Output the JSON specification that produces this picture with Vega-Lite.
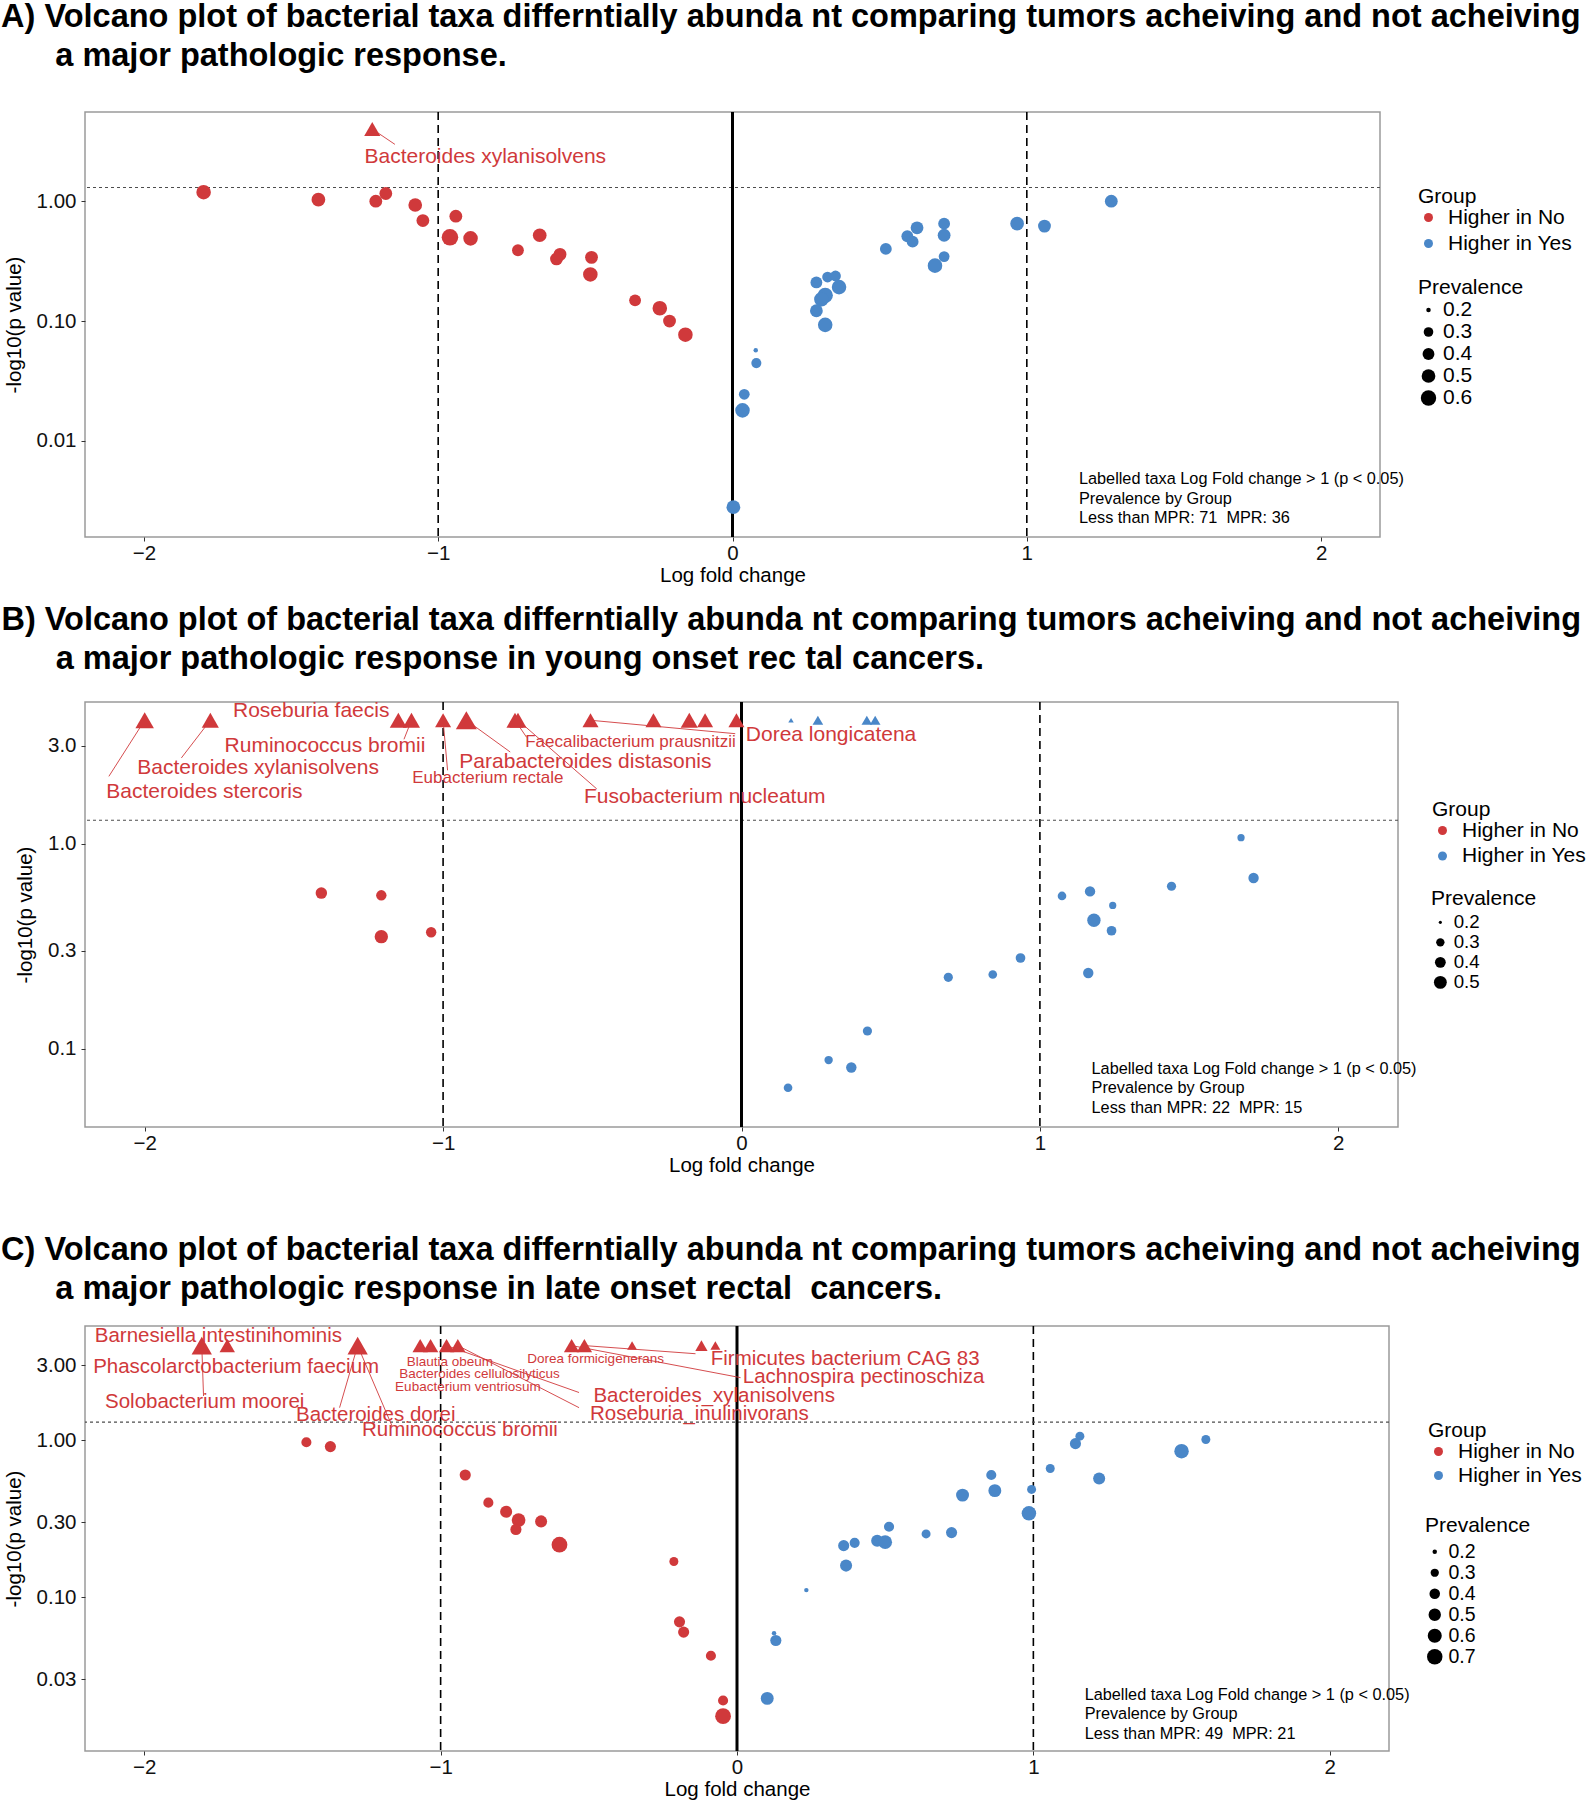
{
"$schema": "https://vega.github.io/schema/vega-lite/v6.json",
"padding": 0,
"background": "white",
"spacing": 16,
"config": {
 "font": "Liberation Sans",
 "view": {"stroke": "#9a9a9a", "strokeWidth": 1.5},
 "axis": {"domain": false, "gridColor": "#ebebeb", "gridWidth": 1, "tickColor": "#333333", "tickSize": 4, "labelFontSize": 20.5, "labelColor": "#111111", "titleFontSize": 20.5, "titleFontWeight": "normal", "titleColor": "#000000"},
 "axisX": {"labelPadding": 2, "titlePadding": 2},
 "axisY": {"labelPadding": 5, "titlePadding": 12},
 "legend": {"labelFontSize": 21, "titleFontSize": 21, "titleFontWeight": "normal", "labelColor": "#000000", "titleColor": "#000000", "padding": 0}
},
"datasets": {
 "A": [
  {"lfc":-1.797,"nlp":1.19,"grp":"Higher in No","prev":0.55,"cap":0},
  {"lfc":-1.407,"nlp":1.03,"grp":"Higher in No","prev":0.5,"cap":0},
  {"lfc":-1.212,"nlp":1.0,"grp":"Higher in No","prev":0.45,"cap":0},
  {"lfc":-1.178,"nlp":1.16,"grp":"Higher in No","prev":0.45,"cap":0},
  {"lfc":-1.078,"nlp":0.93,"grp":"Higher in No","prev":0.5,"cap":0},
  {"lfc":-1.052,"nlp":0.69,"grp":"Higher in No","prev":0.45,"cap":0},
  {"lfc":-0.94,"nlp":0.75,"grp":"Higher in No","prev":0.45,"cap":0},
  {"lfc":-0.96,"nlp":0.5,"grp":"Higher in No","prev":0.68,"cap":0},
  {"lfc":-0.89,"nlp":0.49,"grp":"Higher in No","prev":0.55,"cap":0},
  {"lfc":-0.729,"nlp":0.39,"grp":"Higher in No","prev":0.4,"cap":0},
  {"lfc":-0.655,"nlp":0.52,"grp":"Higher in No","prev":0.5,"cap":0},
  {"lfc":-0.586,"nlp":0.36,"grp":"Higher in No","prev":0.45,"cap":0},
  {"lfc":-0.598,"nlp":0.33,"grp":"Higher in No","prev":0.45,"cap":0},
  {"lfc":-0.479,"nlp":0.34,"grp":"Higher in No","prev":0.45,"cap":0},
  {"lfc":-0.483,"nlp":0.245,"grp":"Higher in No","prev":0.55,"cap":0},
  {"lfc":-0.331,"nlp":0.149,"grp":"Higher in No","prev":0.4,"cap":0},
  {"lfc":-0.247,"nlp":0.128,"grp":"Higher in No","prev":0.55,"cap":0},
  {"lfc":-0.214,"nlp":0.1,"grp":"Higher in No","prev":0.45,"cap":0},
  {"lfc":-0.16,"nlp":0.077,"grp":"Higher in No","prev":0.55,"cap":0},
  {"lfc":-1.224,"nlp":4,"grp":"Higher in No","prev":0.4,"cap":1},
  {"lfc":0.003,"nlp":0.0028,"grp":"Higher in Yes","prev":0.5,"cap":0},
  {"lfc":0.034,"nlp":0.018,"grp":"Higher in Yes","prev":0.55,"cap":0},
  {"lfc":0.04,"nlp":0.0245,"grp":"Higher in Yes","prev":0.35,"cap":0},
  {"lfc":0.081,"nlp":0.0446,"grp":"Higher in Yes","prev":0.32,"cap":0},
  {"lfc":0.079,"nlp":0.057,"grp":"Higher in Yes","prev":0.2,"cap":0},
  {"lfc":1.287,"nlp":1.0,"grp":"Higher in Yes","prev":0.45,"cap":0},
  {"lfc":0.967,"nlp":0.65,"grp":"Higher in Yes","prev":0.5,"cap":0},
  {"lfc":1.06,"nlp":0.62,"grp":"Higher in Yes","prev":0.45,"cap":0},
  {"lfc":0.627,"nlp":0.6,"grp":"Higher in Yes","prev":0.45,"cap":0},
  {"lfc":0.719,"nlp":0.65,"grp":"Higher in Yes","prev":0.4,"cap":0},
  {"lfc":0.719,"nlp":0.52,"grp":"Higher in Yes","prev":0.45,"cap":0},
  {"lfc":0.594,"nlp":0.51,"grp":"Higher in Yes","prev":0.4,"cap":0},
  {"lfc":0.612,"nlp":0.46,"grp":"Higher in Yes","prev":0.4,"cap":0},
  {"lfc":0.521,"nlp":0.4,"grp":"Higher in Yes","prev":0.4,"cap":0},
  {"lfc":0.719,"nlp":0.345,"grp":"Higher in Yes","prev":0.35,"cap":0},
  {"lfc":0.688,"nlp":0.29,"grp":"Higher in Yes","prev":0.55,"cap":0},
  {"lfc":0.323,"nlp":0.233,"grp":"Higher in Yes","prev":0.35,"cap":0},
  {"lfc":0.35,"nlp":0.238,"grp":"Higher in Yes","prev":0.35,"cap":0},
  {"lfc":0.285,"nlp":0.21,"grp":"Higher in Yes","prev":0.4,"cap":0},
  {"lfc":0.362,"nlp":0.192,"grp":"Higher in Yes","prev":0.55,"cap":0},
  {"lfc":0.315,"nlp":0.164,"grp":"Higher in Yes","prev":0.6,"cap":0},
  {"lfc":0.302,"nlp":0.152,"grp":"Higher in Yes","prev":0.55,"cap":0},
  {"lfc":0.285,"nlp":0.122,"grp":"Higher in Yes","prev":0.45,"cap":0},
  {"lfc":0.315,"nlp":0.093,"grp":"Higher in Yes","prev":0.55,"cap":0}
 ],
 "Aseg": [{"lfc":-1.224,"nlp":4,"lfc2":-1.147,"nlp2":2.98}],
 "Alab": [{"label":"Bacteroides xylanisolvens","lfc":-0.84,"nlp":2.32,"kind":"L"}],
 "B": [
  {"lfc":-2.0,"nlp":4,"grp":"Higher in No","prev":0.42,"cap":1},
  {"lfc":-1.78,"nlp":4,"grp":"Higher in No","prev":0.38,"cap":1},
  {"lfc":-1.15,"nlp":4,"grp":"Higher in No","prev":0.38,"cap":1},
  {"lfc":-1.106,"nlp":4,"grp":"Higher in No","prev":0.38,"cap":1},
  {"lfc":-1.0,"nlp":4,"grp":"Higher in No","prev":0.35,"cap":1},
  {"lfc":-0.922,"nlp":4,"grp":"Higher in No","prev":0.5,"cap":1},
  {"lfc":-0.759,"nlp":4,"grp":"Higher in No","prev":0.38,"cap":1},
  {"lfc":-0.749,"nlp":4,"grp":"Higher in No","prev":0.38,"cap":1},
  {"lfc":-0.506,"nlp":4,"grp":"Higher in No","prev":0.35,"cap":1},
  {"lfc":-0.295,"nlp":4,"grp":"Higher in No","prev":0.35,"cap":1},
  {"lfc":-0.175,"nlp":4,"grp":"Higher in No","prev":0.38,"cap":1},
  {"lfc":-0.122,"nlp":4,"grp":"Higher in No","prev":0.35,"cap":1},
  {"lfc":-0.017,"nlp":4,"grp":"Higher in No","prev":0.35,"cap":1},
  {"lfc":0.166,"nlp":4,"grp":"Higher in Yes","prev":0.2,"cap":1},
  {"lfc":0.256,"nlp":4,"grp":"Higher in Yes","prev":0.25,"cap":1},
  {"lfc":0.42,"nlp":4,"grp":"Higher in Yes","prev":0.25,"cap":1},
  {"lfc":0.448,"nlp":4,"grp":"Higher in Yes","prev":0.25,"cap":1},
  {"lfc":-1.408,"nlp":0.574,"grp":"Higher in No","prev":0.43,"cap":0},
  {"lfc":-1.207,"nlp":0.56,"grp":"Higher in No","prev":0.38,"cap":0},
  {"lfc":-1.207,"nlp":0.352,"grp":"Higher in No","prev":0.53,"cap":0},
  {"lfc":-1.04,"nlp":0.37,"grp":"Higher in No","prev":0.38,"cap":0},
  {"lfc":1.674,"nlp":1.07,"grp":"Higher in Yes","prev":0.27,"cap":0},
  {"lfc":1.716,"nlp":0.68,"grp":"Higher in Yes","prev":0.38,"cap":0},
  {"lfc":1.441,"nlp":0.62,"grp":"Higher in Yes","prev":0.33,"cap":0},
  {"lfc":1.074,"nlp":0.556,"grp":"Higher in Yes","prev":0.31,"cap":0},
  {"lfc":1.168,"nlp":0.585,"grp":"Higher in Yes","prev":0.38,"cap":0},
  {"lfc":1.244,"nlp":0.5,"grp":"Higher in Yes","prev":0.27,"cap":0},
  {"lfc":1.181,"nlp":0.423,"grp":"Higher in Yes","prev":0.53,"cap":0},
  {"lfc":1.24,"nlp":0.376,"grp":"Higher in Yes","prev":0.35,"cap":0},
  {"lfc":0.935,"nlp":0.277,"grp":"Higher in Yes","prev":0.35,"cap":0},
  {"lfc":0.842,"nlp":0.23,"grp":"Higher in Yes","prev":0.31,"cap":0},
  {"lfc":0.693,"nlp":0.223,"grp":"Higher in Yes","prev":0.33,"cap":0},
  {"lfc":1.162,"nlp":0.234,"grp":"Higher in Yes","prev":0.38,"cap":0},
  {"lfc":0.422,"nlp":0.122,"grp":"Higher in Yes","prev":0.33,"cap":0},
  {"lfc":0.292,"nlp":0.088,"grp":"Higher in Yes","prev":0.3,"cap":0},
  {"lfc":0.368,"nlp":0.081,"grp":"Higher in Yes","prev":0.38,"cap":0},
  {"lfc":0.156,"nlp":0.0645,"grp":"Higher in Yes","prev":0.31,"cap":0}
 ],
 "Bseg": [
  {"lfc":-2.0,"nlp":4,"lfc2":-2.12,"nlp2":2.13},
  {"lfc":-1.78,"nlp":4,"lfc2":-1.877,"nlp2":2.62},
  {"lfc":-1.106,"nlp":4,"lfc2":-1.131,"nlp2":3.23},
  {"lfc":-0.922,"nlp":4,"lfc2":-0.775,"nlp2":2.8},
  {"lfc":-0.749,"nlp":4,"lfc2":-0.485,"nlp2":1.85},
  {"lfc":-0.506,"nlp":4,"lfc2":-0.021,"nlp2":3.44},
  {"lfc":-1.0,"nlp":4,"lfc2":-0.985,"nlp2":2.28},
  {"lfc":-0.759,"nlp":4,"lfc2":-0.72,"nlp2":3.3}
 ],
 "Blab": [
  {"label":"Roseburia faecis","lfc":-1.442,"nlp":4.45,"kind":"L"},
  {"label":"Ruminococcus bromii","lfc":-1.396,"nlp":2.98,"kind":"L"},
  {"label":"Bacteroides xylanisolvens","lfc":-1.62,"nlp":2.33,"kind":"L"},
  {"label":"Bacteroides stercoris","lfc":-1.8,"nlp":1.78,"kind":"L"},
  {"label":"Parabacteroides distasonis","lfc":-0.523,"nlp":2.49,"kind":"L"},
  {"label":"Fusobacterium nucleatum","lfc":-0.123,"nlp":1.69,"kind":"L"},
  {"label":"Dorea longicatena","lfc":0.3,"nlp":3.4,"kind":"L"},
  {"label":"Faecalibacterium prausnitzii","lfc":-0.372,"nlp":3.14,"kind":"M"},
  {"label":"Eubacterium rectale","lfc":-0.85,"nlp":2.1,"kind":"M"}
 ],
 "C": [
  {"lfc":-1.806,"nlp":4,"grp":"Higher in No","prev":0.6,"cap":1},
  {"lfc":-1.72,"nlp":4,"grp":"Higher in No","prev":0.4,"cap":1},
  {"lfc":-1.28,"nlp":4,"grp":"Higher in No","prev":0.6,"cap":1},
  {"lfc":-1.069,"nlp":4,"grp":"Higher in No","prev":0.4,"cap":1},
  {"lfc":-1.034,"nlp":4,"grp":"Higher in No","prev":0.4,"cap":1},
  {"lfc":-0.98,"nlp":4,"grp":"Higher in No","prev":0.4,"cap":1},
  {"lfc":-0.942,"nlp":4,"grp":"Higher in No","prev":0.4,"cap":1},
  {"lfc":-0.558,"nlp":4,"grp":"Higher in No","prev":0.4,"cap":1},
  {"lfc":-0.515,"nlp":4,"grp":"Higher in No","prev":0.4,"cap":1},
  {"lfc":-0.354,"nlp":4,"grp":"Higher in No","prev":0.25,"cap":1},
  {"lfc":-0.12,"nlp":4,"grp":"Higher in No","prev":0.3,"cap":1},
  {"lfc":-0.073,"nlp":4,"grp":"Higher in No","prev":0.25,"cap":1},
  {"lfc":-1.453,"nlp":0.97,"grp":"Higher in No","prev":0.38,"cap":0},
  {"lfc":-1.372,"nlp":0.91,"grp":"Higher in No","prev":0.43,"cap":0},
  {"lfc":-0.917,"nlp":0.6,"grp":"Higher in No","prev":0.43,"cap":0},
  {"lfc":-0.839,"nlp":0.4,"grp":"Higher in No","prev":0.38,"cap":0},
  {"lfc":-0.779,"nlp":0.35,"grp":"Higher in No","prev":0.48,"cap":0},
  {"lfc":-0.737,"nlp":0.31,"grp":"Higher in No","prev":0.58,"cap":0},
  {"lfc":-0.746,"nlp":0.27,"grp":"Higher in No","prev":0.43,"cap":0},
  {"lfc":-0.661,"nlp":0.304,"grp":"Higher in No","prev":0.48,"cap":0},
  {"lfc":-0.599,"nlp":0.216,"grp":"Higher in No","prev":0.72,"cap":0},
  {"lfc":-0.213,"nlp":0.169,"grp":"Higher in No","prev":0.33,"cap":0},
  {"lfc":-0.194,"nlp":0.0697,"grp":"Higher in No","prev":0.43,"cap":0},
  {"lfc":-0.18,"nlp":0.06,"grp":"Higher in No","prev":0.43,"cap":0},
  {"lfc":-0.088,"nlp":0.0424,"grp":"Higher in No","prev":0.38,"cap":0},
  {"lfc":-0.047,"nlp":0.022,"grp":"Higher in No","prev":0.38,"cap":0},
  {"lfc":-0.047,"nlp":0.0175,"grp":"Higher in No","prev":0.72,"cap":0},
  {"lfc":0.102,"nlp":0.0227,"grp":"Higher in Yes","prev":0.53,"cap":0},
  {"lfc":0.131,"nlp":0.053,"grp":"Higher in Yes","prev":0.43,"cap":0},
  {"lfc":0.125,"nlp":0.059,"grp":"Higher in Yes","prev":0.2,"cap":0},
  {"lfc":1.157,"nlp":1.06,"grp":"Higher in Yes","prev":0.33,"cap":0},
  {"lfc":1.142,"nlp":0.95,"grp":"Higher in Yes","prev":0.43,"cap":0},
  {"lfc":1.582,"nlp":1.01,"grp":"Higher in Yes","prev":0.33,"cap":0},
  {"lfc":1.5,"nlp":0.85,"grp":"Higher in Yes","prev":0.63,"cap":0},
  {"lfc":1.057,"nlp":0.66,"grp":"Higher in Yes","prev":0.33,"cap":0},
  {"lfc":1.222,"nlp":0.57,"grp":"Higher in Yes","prev":0.48,"cap":0},
  {"lfc":0.858,"nlp":0.6,"grp":"Higher in Yes","prev":0.38,"cap":0},
  {"lfc":0.87,"nlp":0.477,"grp":"Higher in Yes","prev":0.53,"cap":0},
  {"lfc":0.761,"nlp":0.447,"grp":"Higher in Yes","prev":0.53,"cap":0},
  {"lfc":0.994,"nlp":0.486,"grp":"Higher in Yes","prev":0.33,"cap":0},
  {"lfc":0.985,"nlp":0.342,"grp":"Higher in Yes","prev":0.63,"cap":0},
  {"lfc":0.513,"nlp":0.281,"grp":"Higher in Yes","prev":0.38,"cap":0},
  {"lfc":0.724,"nlp":0.258,"grp":"Higher in Yes","prev":0.43,"cap":0},
  {"lfc":0.638,"nlp":0.253,"grp":"Higher in Yes","prev":0.33,"cap":0},
  {"lfc":0.473,"nlp":0.229,"grp":"Higher in Yes","prev":0.48,"cap":0},
  {"lfc":0.5,"nlp":0.224,"grp":"Higher in Yes","prev":0.58,"cap":0},
  {"lfc":0.397,"nlp":0.222,"grp":"Higher in Yes","prev":0.38,"cap":0},
  {"lfc":0.36,"nlp":0.213,"grp":"Higher in Yes","prev":0.43,"cap":0},
  {"lfc":0.368,"nlp":0.159,"grp":"Higher in Yes","prev":0.48,"cap":0},
  {"lfc":0.234,"nlp":0.111,"grp":"Higher in Yes","prev":0.2,"cap":0}
 ],
 "Cseg": [
  {"lfc":-1.806,"nlp":4,"lfc2":-1.8,"nlp2":1.91},
  {"lfc":-1.28,"nlp":4,"lfc2":-1.341,"nlp2":1.61},
  {"lfc":-1.28,"nlp":4,"lfc2":-1.164,"nlp2":1.23},
  {"lfc":-0.98,"nlp":4,"lfc2":-0.533,"nlp2":2.01},
  {"lfc":-0.942,"nlp":4,"lfc2":-0.533,"nlp2":1.61},
  {"lfc":-0.515,"nlp":4,"lfc2":-0.14,"nlp2":3.55},
  {"lfc":-0.558,"nlp":4,"lfc2":0.012,"nlp2":2.5}
 ],
 "Clab": [
  {"label":"Barnesiella intestinihominis","lfc":-1.75,"nlp":4.62,"kind":"L"},
  {"label":"Phascolarctobacterium faecium","lfc":-1.69,"nlp":2.93,"kind":"L"},
  {"label":"Solobacterium moorei","lfc":-1.796,"nlp":1.74,"kind":"L"},
  {"label":"Bacteroides dorei","lfc":-1.219,"nlp":1.45,"kind":"L"},
  {"label":"Ruminococcus bromii","lfc":-0.935,"nlp":1.165,"kind":"L"},
  {"label":"Blautia obeum","lfc":-0.969,"nlp":3.14,"kind":"S"},
  {"label":"Bacteroides cellulosilyticus","lfc":-0.869,"nlp":2.65,"kind":"S"},
  {"label":"Eubacterium ventriosum","lfc":-0.908,"nlp":2.17,"kind":"S"},
  {"label":"Dorea formicigenerans","lfc":-0.477,"nlp":3.3,"kind":"S"},
  {"label":"Firmicutes bacterium CAG 83","lfc":0.365,"nlp":3.3,"kind":"L"},
  {"label":"Lachnospira pectinoschiza","lfc":0.427,"nlp":2.52,"kind":"L"},
  {"label":"Bacteroides_xylanisolvens","lfc":-0.077,"nlp":1.9,"kind":"L"},
  {"label":"Roseburia_inulinivorans","lfc":-0.127,"nlp":1.47,"kind":"L"}
 ]
},
"resolve": {"scale": {"color": "independent", "size": "independent", "x": "independent", "y": "independent"}, "legend": {"color": "independent", "size": "independent"}},
"vconcat": [
 {
  "title": {"text": ["A) Volcano plot of bacterial taxa differntially abunda nt comparing tumors acheiving and not acheiving", "\u200b\u00a0\u00a0\u00a0\u00a0\u00a0\u00a0a major pathologic response."], "anchor": "start", "frame": "bounds", "offset": 38, "fontSize": 32.5, "fontWeight": "bold", "lineHeight": 39, "dx": -3, "color": "#000000"},
  "width": 1295, "height": 425,
  "resolve": {"scale": {"size": "independent"}},
  "layer": [
   {"data": {"values": [{}]}, "mark": {"type": "rule", "color": "black", "strokeWidth": 1.6, "strokeDash": [8, 5]}, "encoding": {"x": {"datum": -1, "type": "quantitative", "title": "Log fold change", "scale": {"domain": [-2.2, 2.2], "nice": false, "zero": false}}}},
   {"data": {"values": [{}]}, "mark": {"type": "rule", "color": "black", "strokeWidth": 1.6, "strokeDash": [8, 5]}, "encoding": {"x": {"datum": 1, "type": "quantitative", "title": "Log fold change", "scale": {"domain": [-2.2, 2.2], "nice": false, "zero": false}}}},
   {"data": {"values": [{}]}, "mark": {"type": "rule", "color": "#4d4d4d", "strokeWidth": 1.2, "strokeDash": [3, 3]}, "encoding": {"y": {"datum": 1.30103, "type": "quantitative", "title": "-log10(p value)", "scale": {"type": "log", "domain": [0.00158, 5.55], "nice": false}}}},
   {"data": {"values": [{}]}, "mark": {"type": "rule", "color": "black", "strokeWidth": 3}, "encoding": {"x": {"datum": 0, "type": "quantitative", "title": "Log fold change", "scale": {"domain": [-2.2, 2.2], "nice": false, "zero": false}}}},
   {"data": {"name": "Aseg"}, "mark": {"type": "rule", "color": "#D0393B", "strokeWidth": 0.9},
    "encoding": {"x": {"field": "lfc", "type": "quantitative", "title": "Log fold change", "scale": {"domain": [-2.2, 2.2], "nice": false, "zero": false}}, "y": {"field": "nlp", "type": "quantitative", "title": "-log10(p value)", "scale": {"type": "log", "domain": [0.00158, 5.55], "nice": false}}, "x2": {"field": "lfc2"}, "y2": {"field": "nlp2"}}},
   {"data": {"name": "A"}, "transform": [{"filter": "datum.cap == 0"}], "mark": {"type": "point", "shape": "circle", "filled": true, "opacity": 1},
    "encoding": {
     "x": {"field": "lfc", "type": "quantitative", "title": "Log fold change", "scale": {"domain": [-2.2, 2.2], "nice": false, "zero": false}, "axis": {"values": [-2, -1.5, -1, -0.5, 0, 0.5, 1, 1.5, 2], "labelExpr": "datum.value % 1 == 0 ? format(datum.value, 'd') : ''", "tickOpacity": {"condition": {"test": "datum.value % 1 == 0", "value": 1}, "value": 0}}},
     "y": {"field": "nlp", "type": "quantitative", "title": "-log10(p value)", "scale": {"type": "log", "domain": [0.00158, 5.55], "nice": false}, "axis": {"values": [0.00316, 0.01, 0.0316, 0.1, 0.316, 1, 3.16], "labelExpr": "indexof([0.01, 0.1, 1], datum.value) >= 0 ? format(datum.value, '.2f') : ''", "tickOpacity": {"condition": {"test": "indexof([0.01, 0.1, 1], datum.value) >= 0", "value": 1}, "value": 0}}},
     "color": {"field": "grp", "type": "nominal", "scale": {"domain": ["Higher in No", "Higher in Yes"], "range": ["#D0393B", "#4A87C8"]}, "legend": {"title": "Group", "orient": "none", "legendX": 1333, "legendY": 74, "symbolType": "circle", "symbolSize": 81, "titlePadding": 0, "rowPadding": 4, "labelOffset": 9}},
     "size": {"field": "prev", "type": "quantitative", "scale": {"domain": [0.2, 0.3, 0.6], "range": [20, 92, 236]}, "legend": {"title": "Prevalence", "orient": "none", "legendX": 1333, "legendY": 164.5, "values": [0.2, 0.3, 0.4, 0.5, 0.6], "format": ".1f", "symbolFillColor": "black", "symbolStrokeWidth": 0, "titlePadding": 2, "rowPadding": 0, "labelOffset": 4}}
    }},
   {"data": {"name": "A"}, "transform": [{"filter": "datum.cap == 1"}], "mark": {"type": "point", "shape": "triangle-up", "filled": true, "opacity": 1},
    "encoding": {
     "x": {"field": "lfc", "type": "quantitative", "title": "Log fold change", "scale": {"domain": [-2.2, 2.2], "nice": false, "zero": false}},
     "y": {"field": "nlp", "type": "quantitative", "title": "-log10(p value)", "scale": {"type": "log", "domain": [0.00158, 5.55], "nice": false}},
     "color": {"field": "grp", "type": "nominal", "scale": {"domain": ["Higher in No", "Higher in Yes"], "range": ["#D0393B", "#4A87C8"]}},
     "size": {"field": "prev", "type": "quantitative", "scale": {"domain": [0.2, 0.3, 0.6], "range": [38, 175, 430]}, "legend": null}
    }},
   {"data": {"name": "Alab"}, "mark": {"type": "text", "color": "#D0393B", "fontSize": 21, "align": "center", "baseline": "middle"},
    "encoding": {"x": {"field": "lfc", "type": "quantitative", "title": "Log fold change", "scale": {"domain": [-2.2, 2.2], "nice": false, "zero": false}}, "y": {"field": "nlp", "type": "quantitative", "title": "-log10(p value)", "scale": {"type": "log", "domain": [0.00158, 5.55], "nice": false}}, "text": {"field": "label"}}},
   {"data": {"values": [{}]}, "mark": {"type": "text", "text": ["Labelled taxa Log Fold change > 1 (p < 0.05)", "Prevalence by Group", "Less than MPR: 71\u00a0 MPR: 36"], "align": "left", "baseline": "middle", "fontSize": 16.3, "lineHeight": 19.5, "color": "black"},
    "encoding": {"x": {"datum": 1.177, "type": "quantitative", "title": "Log fold change", "scale": {"domain": [-2.2, 2.2], "nice": false, "zero": false}}, "y": {"datum": 0.0048, "type": "quantitative", "title": "-log10(p value)", "scale": {"type": "log", "domain": [0.00158, 5.55], "nice": false}}}}
  ]
 },
 {
  "title": {"text": ["B) Volcano plot of bacterial taxa differntially abunda nt comparing tumors acheiving and not acheiving", "\u200b\u00a0\u00a0\u00a0\u00a0\u00a0\u00a0a major pathologic response in young onset rec tal cancers."], "anchor": "start", "frame": "bounds", "offset": 24, "fontSize": 32.5, "fontWeight": "bold", "lineHeight": 39, "dx": -14, "color": "#000000"},
  "width": 1313, "height": 425,
  "resolve": {"scale": {"size": "independent"}},
  "layer": [
   {"data": {"values": [{}]}, "mark": {"type": "rule", "color": "black", "strokeWidth": 1.6, "strokeDash": [8, 5]}, "encoding": {"x": {"datum": -1, "type": "quantitative", "title": "Log fold change", "scale": {"domain": [-2.2, 2.2], "nice": false, "zero": false}}}},
   {"data": {"values": [{}]}, "mark": {"type": "rule", "color": "black", "strokeWidth": 1.6, "strokeDash": [8, 5]}, "encoding": {"x": {"datum": 1, "type": "quantitative", "title": "Log fold change", "scale": {"domain": [-2.2, 2.2], "nice": false, "zero": false}}}},
   {"data": {"values": [{}]}, "mark": {"type": "rule", "color": "#4d4d4d", "strokeWidth": 1.2, "strokeDash": [3, 3]}, "encoding": {"y": {"datum": 1.30103, "type": "quantitative", "title": "-log10(p value)", "scale": {"type": "log", "domain": [0.0415, 4.91], "nice": false}}}},
   {"data": {"values": [{}]}, "mark": {"type": "rule", "color": "black", "strokeWidth": 3}, "encoding": {"x": {"datum": 0, "type": "quantitative", "title": "Log fold change", "scale": {"domain": [-2.2, 2.2], "nice": false, "zero": false}}}},
   {"data": {"name": "Bseg"}, "mark": {"type": "rule", "color": "#D0393B", "strokeWidth": 0.9},
    "encoding": {"x": {"field": "lfc", "type": "quantitative", "title": "Log fold change", "scale": {"domain": [-2.2, 2.2], "nice": false, "zero": false}}, "y": {"field": "nlp", "type": "quantitative", "title": "-log10(p value)", "scale": {"type": "log", "domain": [0.0415, 4.91], "nice": false}}, "x2": {"field": "lfc2"}, "y2": {"field": "nlp2"}}},
   {"data": {"name": "B"}, "transform": [{"filter": "datum.cap == 0"}], "mark": {"type": "point", "shape": "circle", "filled": true, "opacity": 1},
    "encoding": {
     "x": {"field": "lfc", "type": "quantitative", "title": "Log fold change", "scale": {"domain": [-2.2, 2.2], "nice": false, "zero": false}, "axis": {"values": [-2, -1.5, -1, -0.5, 0, 0.5, 1, 1.5, 2], "labelExpr": "datum.value % 1 == 0 ? format(datum.value, 'd') : ''", "tickOpacity": {"condition": {"test": "datum.value % 1 == 0", "value": 1}, "value": 0}}},
     "y": {"field": "nlp", "type": "quantitative", "title": "-log10(p value)", "scale": {"type": "log", "domain": [0.0415, 4.91], "nice": false}, "axis": {"values": [0.0548, 0.1, 0.173, 0.3, 0.548, 1, 1.73, 3], "labelExpr": "indexof([0.1, 0.3, 1, 3], datum.value) >= 0 ? format(datum.value, '.1f') : ''", "tickOpacity": {"condition": {"test": "indexof([0.1, 0.3, 1, 3], datum.value) >= 0", "value": 1}, "value": 0}}},
     "color": {"field": "grp", "type": "nominal", "scale": {"domain": ["Higher in No", "Higher in Yes"], "range": ["#D0393B", "#4A87C8"]}, "legend": {"title": "Group", "orient": "none", "legendX": 1347, "legendY": 97, "symbolType": "circle", "symbolSize": 81, "titlePadding": 0, "rowPadding": 3.5, "labelOffset": 9}},
     "size": {"field": "prev", "type": "quantitative", "scale": {"domain": [0.2, 0.3, 0.5], "range": [10, 70, 165]}, "legend": {"title": "Prevalence", "orient": "none", "legendX": 1346, "legendY": 186, "values": [0.2, 0.3, 0.4, 0.5], "format": ".1f", "symbolFillColor": "black", "symbolStrokeWidth": 0, "titlePadding": 4, "rowPadding": 0, "labelOffset": 4, "labelFontSize": 18.7}}
    }},
   {"data": {"name": "B"}, "transform": [{"filter": "datum.cap == 1"}], "mark": {"type": "point", "shape": "triangle-up", "filled": true, "opacity": 1},
    "encoding": {
     "x": {"field": "lfc", "type": "quantitative", "title": "Log fold change", "scale": {"domain": [-2.2, 2.2], "nice": false, "zero": false}},
     "y": {"field": "nlp", "type": "quantitative", "title": "-log10(p value)", "scale": {"type": "log", "domain": [0.0415, 4.91], "nice": false}},
     "color": {"field": "grp", "type": "nominal", "scale": {"domain": ["Higher in No", "Higher in Yes"], "range": ["#D0393B", "#4A87C8"]}},
     "size": {"field": "prev", "type": "quantitative", "scale": {"domain": [0.2, 0.3, 0.5], "range": [30, 195, 440]}, "legend": null}
    }},
   {"data": {"name": "Blab"}, "transform": [{"filter": "datum.kind == 'L'"}], "mark": {"type": "text", "color": "#D0393B", "fontSize": 21, "align": "center", "baseline": "middle"},
    "encoding": {"x": {"field": "lfc", "type": "quantitative", "title": "Log fold change", "scale": {"domain": [-2.2, 2.2], "nice": false, "zero": false}}, "y": {"field": "nlp", "type": "quantitative", "title": "-log10(p value)", "scale": {"type": "log", "domain": [0.0415, 4.91], "nice": false}}, "text": {"field": "label"}}},
   {"data": {"name": "Blab"}, "transform": [{"filter": "datum.kind == 'M'"}], "mark": {"type": "text", "color": "#D0393B", "fontSize": 17, "align": "center", "baseline": "middle"},
    "encoding": {"x": {"field": "lfc", "type": "quantitative", "title": "Log fold change", "scale": {"domain": [-2.2, 2.2], "nice": false, "zero": false}}, "y": {"field": "nlp", "type": "quantitative", "title": "-log10(p value)", "scale": {"type": "log", "domain": [0.0415, 4.91], "nice": false}}, "text": {"field": "label"}}},
   {"data": {"values": [{}]}, "mark": {"type": "text", "text": ["Labelled taxa Log Fold change > 1 (p < 0.05)", "Prevalence by Group", "Less than MPR: 22\u00a0 MPR: 15"], "align": "left", "baseline": "middle", "fontSize": 16.3, "lineHeight": 19.5, "color": "black"},
    "encoding": {"x": {"datum": 1.173, "type": "quantitative", "title": "Log fold change", "scale": {"domain": [-2.2, 2.2], "nice": false, "zero": false}}, "y": {"datum": 0.0797, "type": "quantitative", "title": "-log10(p value)", "scale": {"type": "log", "domain": [0.0415, 4.91], "nice": false}}}}
  ]
 },
 {
  "title": {"text": ["", "C) Volcano plot of bacterial taxa differntially abunda nt comparing tumors acheiving and not acheiving", "\u200b\u00a0\u00a0\u00a0\u00a0\u00a0\u00a0a major pathologic response in late onset rectal\u00a0 cancers."], "anchor": "start", "frame": "bounds", "offset": 19.5, "fontSize": 32.5, "fontWeight": "bold", "lineHeight": 39, "dx": -3, "color": "#000000"},
  "width": 1304, "height": 425,
  "resolve": {"scale": {"size": "independent"}},
  "layer": [
   {"data": {"values": [{}]}, "mark": {"type": "rule", "color": "black", "strokeWidth": 1.6, "strokeDash": [8, 5]}, "encoding": {"x": {"datum": -1, "type": "quantitative", "title": "Log fold change", "scale": {"domain": [-2.2, 2.2], "nice": false, "zero": false}}}},
   {"data": {"values": [{}]}, "mark": {"type": "rule", "color": "black", "strokeWidth": 1.6, "strokeDash": [8, 5]}, "encoding": {"x": {"datum": 1, "type": "quantitative", "title": "Log fold change", "scale": {"domain": [-2.2, 2.2], "nice": false, "zero": false}}}},
   {"data": {"values": [{}]}, "mark": {"type": "rule", "color": "#4d4d4d", "strokeWidth": 1.2, "strokeDash": [3, 3]}, "encoding": {"y": {"datum": 1.30103, "type": "quantitative", "title": "-log10(p value)", "scale": {"type": "log", "domain": [0.0105, 5.33], "nice": false}}}},
   {"data": {"values": [{}]}, "mark": {"type": "rule", "color": "black", "strokeWidth": 3}, "encoding": {"x": {"datum": 0, "type": "quantitative", "title": "Log fold change", "scale": {"domain": [-2.2, 2.2], "nice": false, "zero": false}}}},
   {"data": {"name": "Cseg"}, "mark": {"type": "rule", "color": "#D0393B", "strokeWidth": 0.9},
    "encoding": {"x": {"field": "lfc", "type": "quantitative", "title": "Log fold change", "scale": {"domain": [-2.2, 2.2], "nice": false, "zero": false}}, "y": {"field": "nlp", "type": "quantitative", "title": "-log10(p value)", "scale": {"type": "log", "domain": [0.0105, 5.33], "nice": false}}, "x2": {"field": "lfc2"}, "y2": {"field": "nlp2"}}},
   {"data": {"name": "C"}, "transform": [{"filter": "datum.cap == 0"}], "mark": {"type": "point", "shape": "circle", "filled": true, "opacity": 1},
    "encoding": {
     "x": {"field": "lfc", "type": "quantitative", "title": "Log fold change", "scale": {"domain": [-2.2, 2.2], "nice": false, "zero": false}, "axis": {"values": [-2, -1.5, -1, -0.5, 0, 0.5, 1, 1.5, 2], "labelExpr": "datum.value % 1 == 0 ? format(datum.value, 'd') : ''", "tickOpacity": {"condition": {"test": "datum.value % 1 == 0", "value": 1}, "value": 0}}},
     "y": {"field": "nlp", "type": "quantitative", "title": "-log10(p value)", "scale": {"type": "log", "domain": [0.0105, 5.33], "nice": false}, "axis": {"values": [0.0173, 0.03, 0.0548, 0.1, 0.173, 0.3, 0.548, 1, 1.73, 3], "labelExpr": "indexof([0.03, 0.1, 0.3, 1, 3], datum.value) >= 0 ? format(datum.value, '.2f') : ''", "tickOpacity": {"condition": {"test": "indexof([0.03, 0.1, 0.3, 1, 3], datum.value) >= 0", "value": 1}, "value": 0}}},
     "color": {"field": "grp", "type": "nominal", "scale": {"domain": ["Higher in No", "Higher in Yes"], "range": ["#D0393B", "#4A87C8"]}, "legend": {"title": "Group", "orient": "none", "legendX": 1343, "legendY": 94, "symbolType": "circle", "symbolSize": 81, "titlePadding": 0, "rowPadding": 2, "labelOffset": 9}},
     "size": {"field": "prev", "type": "quantitative", "scale": {"domain": [0.2, 0.3, 0.7], "range": [20, 68, 240]}, "legend": {"title": "Prevalence", "orient": "none", "legendX": 1340, "legendY": 189, "values": [0.2, 0.3, 0.4, 0.5, 0.6, 0.7], "format": ".1f", "symbolFillColor": "black", "symbolStrokeWidth": 0, "titlePadding": 6, "rowPadding": 0, "labelOffset": 4, "labelFontSize": 19.5}}
    }},
   {"data": {"name": "C"}, "transform": [{"filter": "datum.cap == 1"}], "mark": {"type": "point", "shape": "triangle-up", "filled": true, "opacity": 1},
    "encoding": {
     "x": {"field": "lfc", "type": "quantitative", "title": "Log fold change", "scale": {"domain": [-2.2, 2.2], "nice": false, "zero": false}},
     "y": {"field": "nlp", "type": "quantitative", "title": "-log10(p value)", "scale": {"type": "log", "domain": [0.0105, 5.33], "nice": false}},
     "color": {"field": "grp", "type": "nominal", "scale": {"domain": ["Higher in No", "Higher in Yes"], "range": ["#D0393B", "#4A87C8"]}},
     "size": {"field": "prev", "type": "quantitative", "scale": {"domain": [0.2, 0.3, 0.7], "range": [46, 150, 500]}, "legend": null}
    }},
   {"data": {"name": "Clab"}, "transform": [{"filter": "datum.kind == 'L'"}], "mark": {"type": "text", "color": "#D0393B", "fontSize": 20.5, "align": "center", "baseline": "middle"},
    "encoding": {"x": {"field": "lfc", "type": "quantitative", "title": "Log fold change", "scale": {"domain": [-2.2, 2.2], "nice": false, "zero": false}}, "y": {"field": "nlp", "type": "quantitative", "title": "-log10(p value)", "scale": {"type": "log", "domain": [0.0105, 5.33], "nice": false}}, "text": {"field": "label"}}},
   {"data": {"name": "Clab"}, "transform": [{"filter": "datum.kind == 'S'"}], "mark": {"type": "text", "color": "#D0393B", "fontSize": 13.5, "align": "center", "baseline": "middle"},
    "encoding": {"x": {"field": "lfc", "type": "quantitative", "title": "Log fold change", "scale": {"domain": [-2.2, 2.2], "nice": false, "zero": false}}, "y": {"field": "nlp", "type": "quantitative", "title": "-log10(p value)", "scale": {"type": "log", "domain": [0.0105, 5.33], "nice": false}}, "text": {"field": "label"}}},
   {"data": {"values": [{}]}, "mark": {"type": "text", "text": ["Labelled taxa Log Fold change > 1 (p < 0.05)", "Prevalence by Group", "Less than MPR: 49\u00a0 MPR: 21"], "align": "left", "baseline": "middle", "fontSize": 16.3, "lineHeight": 19.5, "color": "black"},
    "encoding": {"x": {"datum": 1.173, "type": "quantitative", "title": "Log fold change", "scale": {"domain": [-2.2, 2.2], "nice": false, "zero": false}}, "y": {"datum": 0.024, "type": "quantitative", "title": "-log10(p value)", "scale": {"type": "log", "domain": [0.0105, 5.33], "nice": false}}}}
  ]
 }
]
}
